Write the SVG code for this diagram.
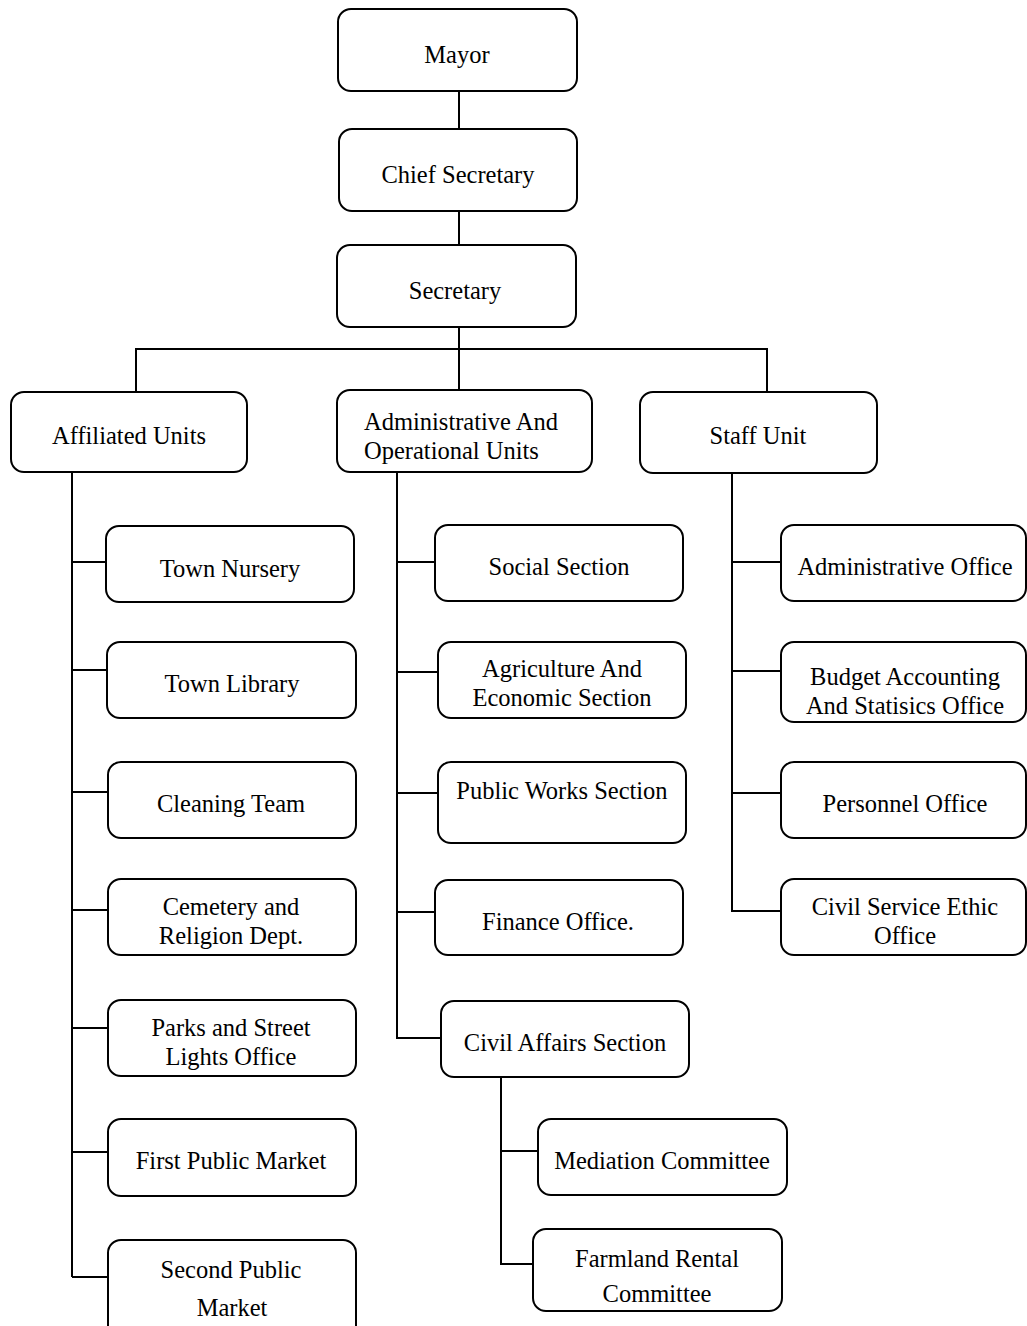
<svg xmlns="http://www.w3.org/2000/svg" width="1027" height="1326" viewBox="0 0 1027 1326">
<style>
rect{fill:#fff;stroke:#000;stroke-width:2}
text{font-family:'Liberation Serif',Tinos,'Times New Roman','Nimbus Roman','DejaVu Serif',serif;font-size:24.5px;fill:#000;text-anchor:middle}
#connectors path{fill:none;stroke:#000;stroke-width:2}
</style>
<rect x="0" y="0" width="1027" height="1326" style="stroke:none"/>
<g id="connectors">
<path d="M459 91V129M459 211V245M459 327V390"/>
<path d="M136 392V349H767V392"/>
<path d="M72 472V1277M72 562H106M72 670H107M72 792H108M72 910H108M72 1028H108M72 1152H108M72 1277H108"/>
<path d="M397 472V1038H441M397 562H435M397 672H438M397 793H438M397 912H435"/>
<path d="M501 1077V1264H533M501 1151H538"/>
<path d="M732 473V911H781M732 562H781M732 671H781M732 793H781"/>
</g>
<g id="mayor"><rect x="338" y="9" width="239" height="82" rx="13"/><text x="457" y="63">Mayor</text></g>
<g id="chief-secretary"><rect x="339" y="129" width="238" height="82" rx="13"/><text x="458" y="183">Chief Secretary</text></g>
<g id="secretary"><rect x="337" y="245" width="239" height="82" rx="13"/><text x="455" y="299">Secretary</text></g>
<g id="affiliated-units"><rect x="11" y="392" width="236" height="80" rx="13"/><text x="129" y="444">Affiliated Units</text></g>
<g id="admin-operational"><rect x="337" y="390" width="255" height="82" rx="13"/><text x="364" y="430" style="text-anchor:start">Administrative And</text><text x="364" y="459" style="text-anchor:start">Operational Units</text></g>
<g id="staff-unit"><rect x="640" y="392" width="237" height="81" rx="13"/><text x="758" y="444">Staff Unit</text></g>
<g id="town-nursery"><rect x="106" y="526" width="248" height="76" rx="13"/><text x="230" y="577">Town Nursery</text></g>
<g id="town-library"><rect x="107" y="642" width="249" height="76" rx="13"/><text x="232" y="692">Town Library</text></g>
<g id="cleaning-team"><rect x="108" y="762" width="248" height="76" rx="13"/><text x="231" y="812">Cleaning Team</text></g>
<g id="cemetery"><rect x="108" y="879" width="248" height="76" rx="13"/><text x="231" y="915">Cemetery and</text><text x="231" y="944">Religion Dept.</text></g>
<g id="parks"><rect x="108" y="1000" width="248" height="76" rx="13"/><text x="231" y="1036">Parks and Street</text><text x="231" y="1065">Lights Office</text></g>
<g id="first-market"><rect x="108" y="1119" width="248" height="77" rx="13"/><text x="231" y="1169">First Public Market</text></g>
<g id="second-market"><rect x="108" y="1240" width="248" height="100" rx="13"/><text x="231" y="1278">Second Public</text><text x="232" y="1316">Market</text></g>
<g id="social-section"><rect x="435" y="525" width="248" height="76" rx="13"/><text x="559" y="575">Social Section</text></g>
<g id="agriculture"><rect x="438" y="642" width="248" height="76" rx="13"/><text x="562" y="677">Agriculture And</text><text x="562" y="706">Economic Section</text></g>
<g id="public-works"><rect x="438" y="762" width="248" height="81" rx="13"/><text x="562" y="799">Public Works Section</text></g>
<g id="finance-office"><rect x="435" y="880" width="248" height="75" rx="13"/><text x="558" y="930">Finance Office.</text></g>
<g id="civil-affairs"><rect x="441" y="1001" width="248" height="76" rx="13"/><text x="565" y="1051">Civil Affairs Section</text></g>
<g id="mediation"><rect x="538" y="1119" width="249" height="76" rx="13"/><text x="662" y="1169">Mediation Committee</text></g>
<g id="farmland"><rect x="533" y="1229" width="249" height="82" rx="13"/><text x="657" y="1267">Farmland Rental</text><text x="657" y="1302">Committee</text></g>
<g id="administrative-office"><rect x="781" y="525" width="245" height="76" rx="13"/><text x="905" y="575">Administrative Office</text></g>
<g id="budget-office"><rect x="781" y="642" width="245" height="80" rx="13"/><text x="905" y="685">Budget Accounting</text><text x="905" y="714">And Statisics Office</text></g>
<g id="personnel-office"><rect x="781" y="762" width="245" height="76" rx="13"/><text x="905" y="812">Personnel Office</text></g>
<g id="civil-service"><rect x="781" y="879" width="245" height="76" rx="13"/><text x="905" y="915">Civil Service Ethic</text><text x="905" y="944">Office</text></g>
</svg>
